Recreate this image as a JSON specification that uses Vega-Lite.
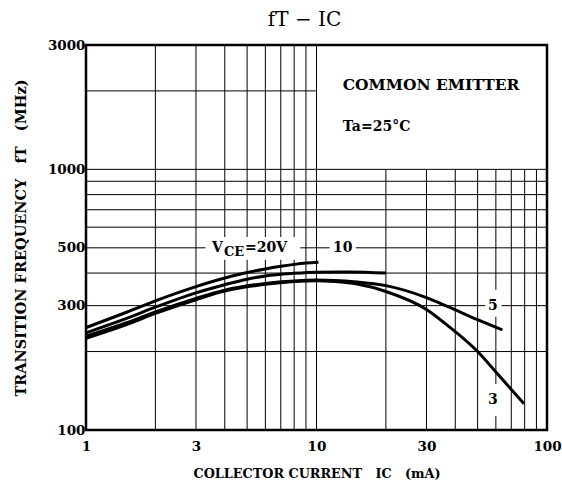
{
  "$schema": "https://vega.github.io/schema/vega-lite/v6.json",
  "width": 461,
  "height": 385,
  "autosize": {"type": "none"},
  "padding": {"left": 86, "top": 45, "right": 15, "bottom": 60},
  "background": "white",
  "title": {"text": "fT − IC", "font": "DejaVu Serif", "fontSize": 20, "fontWeight": "normal", "color": "black", "offset": 8, "anchor": "middle", "dx": -12},
  "config": {
    "view": {"stroke": "black", "strokeWidth": 2.5},
    "axis": {"labelFont": "DejaVu Serif", "labelFontWeight": "bold", "labelFontSize": 13.5, "labelColor": "black", "titleFont": "DejaVu Serif", "titleFontWeight": "bold", "titleFontSize": 13.5, "titleColor": "black", "ticks": false, "domain": false, "grid": false, "labelFlush": false, "labelOverlap": false}
  },
  "datasets": {
    "grid": [
      {"x": 2, "x2": 2, "y": 100, "y2": 3000},
      {"x": 3, "x2": 3, "y": 100, "y2": 3000},
      {"x": 4, "x2": 4, "y": 100, "y2": 3000},
      {"x": 5, "x2": 5, "y": 100, "y2": 3000},
      {"x": 6, "x2": 6, "y": 100, "y2": 3000},
      {"x": 7, "x2": 7, "y": 100, "y2": 3000},
      {"x": 8, "x2": 8, "y": 100, "y2": 3000},
      {"x": 9, "x2": 9, "y": 100, "y2": 3000},
      {"x": 10, "x2": 10, "y": 100, "y2": 3000},
      {"x": 20, "x2": 20, "y": 100, "y2": 1000},
      {"x": 30, "x2": 30, "y": 100, "y2": 1000},
      {"x": 40, "x2": 40, "y": 100, "y2": 1000},
      {"x": 50, "x2": 50, "y": 100, "y2": 1000},
      {"x": 60, "x2": 60, "y": 100, "y2": 1000},
      {"x": 70, "x2": 70, "y": 100, "y2": 1000},
      {"x": 80, "x2": 80, "y": 100, "y2": 1000},
      {"x": 90, "x2": 90, "y": 100, "y2": 1000},
      {"x": 1, "x2": 100, "y": 200, "y2": 200},
      {"x": 1, "x2": 100, "y": 300, "y2": 300},
      {"x": 1, "x2": 100, "y": 400, "y2": 400},
      {"x": 1, "x2": 100, "y": 500, "y2": 500},
      {"x": 1, "x2": 100, "y": 600, "y2": 600},
      {"x": 1, "x2": 100, "y": 700, "y2": 700},
      {"x": 1, "x2": 100, "y": 800, "y2": 800},
      {"x": 1, "x2": 100, "y": 900, "y2": 900},
      {"x": 1, "x2": 100, "y": 1000, "y2": 1000},
      {"x": 1, "x2": 10, "y": 2000, "y2": 2000}
    ],
    "masks": [
      {"x": 3.3, "x2": 8.5, "y": 450, "y2": 550},
      {"x": 11.4, "x2": 14.8, "y": 465, "y2": 535},
      {"x": 54, "x2": 63.5, "y": 272, "y2": 345},
      {"x": 54, "x2": 63.5, "y": 113, "y2": 150}
    ],
    "curves": [
      {"vce": "20V", "ic": 1, "ft": 247},
      {"vce": "20V", "ic": 1.5, "ft": 283},
      {"vce": "20V", "ic": 2, "ft": 313},
      {"vce": "20V", "ic": 3, "ft": 355},
      {"vce": "20V", "ic": 4, "ft": 383},
      {"vce": "20V", "ic": 5, "ft": 402},
      {"vce": "20V", "ic": 6, "ft": 415},
      {"vce": "20V", "ic": 7, "ft": 425},
      {"vce": "20V", "ic": 8, "ft": 432},
      {"vce": "20V", "ic": 9, "ft": 437},
      {"vce": "20V", "ic": 10.2, "ft": 440},
      {"vce": "10V", "ic": 1, "ft": 236},
      {"vce": "10V", "ic": 1.5, "ft": 268},
      {"vce": "10V", "ic": 2, "ft": 296},
      {"vce": "10V", "ic": 3, "ft": 336},
      {"vce": "10V", "ic": 4, "ft": 361},
      {"vce": "10V", "ic": 5, "ft": 379},
      {"vce": "10V", "ic": 6, "ft": 390},
      {"vce": "10V", "ic": 8, "ft": 399},
      {"vce": "10V", "ic": 10, "ft": 403},
      {"vce": "10V", "ic": 14, "ft": 404},
      {"vce": "10V", "ic": 20, "ft": 400},
      {"vce": "5V", "ic": 1, "ft": 229},
      {"vce": "5V", "ic": 1.5, "ft": 258},
      {"vce": "5V", "ic": 2, "ft": 284},
      {"vce": "5V", "ic": 3, "ft": 320},
      {"vce": "5V", "ic": 4, "ft": 344},
      {"vce": "5V", "ic": 6, "ft": 365},
      {"vce": "5V", "ic": 8, "ft": 373},
      {"vce": "5V", "ic": 10, "ft": 376},
      {"vce": "5V", "ic": 12, "ft": 375},
      {"vce": "5V", "ic": 15, "ft": 370},
      {"vce": "5V", "ic": 20, "ft": 358},
      {"vce": "5V", "ic": 30, "ft": 322},
      {"vce": "5V", "ic": 37, "ft": 298},
      {"vce": "5V", "ic": 50, "ft": 265},
      {"vce": "5V", "ic": 64, "ft": 242},
      {"vce": "3V", "ic": 1, "ft": 225},
      {"vce": "3V", "ic": 1.5, "ft": 254},
      {"vce": "3V", "ic": 2, "ft": 280},
      {"vce": "3V", "ic": 3, "ft": 316},
      {"vce": "3V", "ic": 4, "ft": 341},
      {"vce": "3V", "ic": 6, "ft": 362},
      {"vce": "3V", "ic": 8, "ft": 371},
      {"vce": "3V", "ic": 10, "ft": 374},
      {"vce": "3V", "ic": 12, "ft": 371},
      {"vce": "3V", "ic": 15, "ft": 363},
      {"vce": "3V", "ic": 20, "ft": 340},
      {"vce": "3V", "ic": 30, "ft": 290},
      {"vce": "3V", "ic": 37, "ft": 252},
      {"vce": "3V", "ic": 50, "ft": 200},
      {"vce": "3V", "ic": 60, "ft": 167},
      {"vce": "3V", "ic": 70, "ft": 143},
      {"vce": "3V", "ic": 79.5, "ft": 126}
    ],
    "bigLabels": [
      {"x": 13.0, "y": 2100, "text": "COMMON EMITTER"}
    ],
    "labels": [
      {"x": 13.0, "y": 1450, "text": "Ta=25°C"},
      {"x": 3.52, "y": 500, "text": "V"},
      {"x": 4.9, "y": 500, "text": "=20V"},
      {"x": 11.8, "y": 500, "text": "10"},
      {"x": 55.5, "y": 300, "text": "5"},
      {"x": 55.5, "y": 130, "text": "3"}
    ],
    "subs": [
      {"x": 3.97, "y": 500, "text": "CE"}
    ]
  },
  "encoding": {
    "x": {"type": "quantitative", "scale": {"type": "log", "domain": [1, 100], "nice": false},
          "axis": {"values": [1, 3, 10, 30, 100], "format": "d", "labelPadding": 9, "title": "COLLECTOR CURRENT\u00a0\u00a0\u00a0IC\u00a0\u00a0\u00a0(mA)", "titlePadding": 15, "titleFontSize": 12.8}},
    "y": {"type": "quantitative", "scale": {"type": "log", "domain": [100, 3000], "nice": false},
          "axis": {"values": [100, 300, 500, 1000, 3000], "format": "d", "labelPadding": 1, "title": "TRANSITION FREQUENCY\u00a0\u00a0\u00a0fT\u00a0\u00a0\u00a0(MHz)", "titlePadding": 19, "titleFontSize": 14.5}}
  },
  "layer": [
    {
      "data": {"name": "grid"},
      "mark": {"type": "rule", "color": "black", "strokeWidth": 1},
      "encoding": {
        "x": {"field": "x"},
        "x2": {"field": "x2"},
        "y": {"field": "y"},
        "y2": {"field": "y2"}
      }
    },
    {
      "data": {"name": "masks"},
      "mark": {"type": "rect", "color": "white"},
      "encoding": {
        "x": {"field": "x"},
        "x2": {"field": "x2"},
        "y": {"field": "y"},
        "y2": {"field": "y2"}
      }
    },
    {
      "data": {"name": "curves"},
      "mark": {"type": "line", "color": "black", "strokeWidth": 3, "interpolate": "monotone"},
      "encoding": {
        "x": {"field": "ic"},
        "y": {"field": "ft"},
        "detail": {"field": "vce", "type": "nominal"}
      }
    },
    {
      "data": {"name": "bigLabels"},
      "mark": {"type": "text", "align": "left", "baseline": "middle", "font": "DejaVu Serif", "fontWeight": "bold", "fontSize": 15.5, "color": "black"},
      "encoding": {
        "x": {"field": "x"},
        "y": {"field": "y"},
        "text": {"field": "text"}
      }
    },
    {
      "data": {"name": "labels"},
      "mark": {"type": "text", "align": "left", "baseline": "middle", "font": "DejaVu Serif", "fontWeight": "bold", "fontSize": 14, "color": "black"},
      "encoding": {
        "x": {"field": "x"},
        "y": {"field": "y"},
        "text": {"field": "text"}
      }
    },
    {
      "data": {"name": "subs"},
      "mark": {"type": "text", "align": "left", "baseline": "middle", "dy": 4, "font": "DejaVu Serif", "fontWeight": "bold", "fontSize": 13, "color": "black"},
      "encoding": {
        "x": {"field": "x"},
        "y": {"field": "y"},
        "text": {"field": "text"}
      }
    }
  ]
}
